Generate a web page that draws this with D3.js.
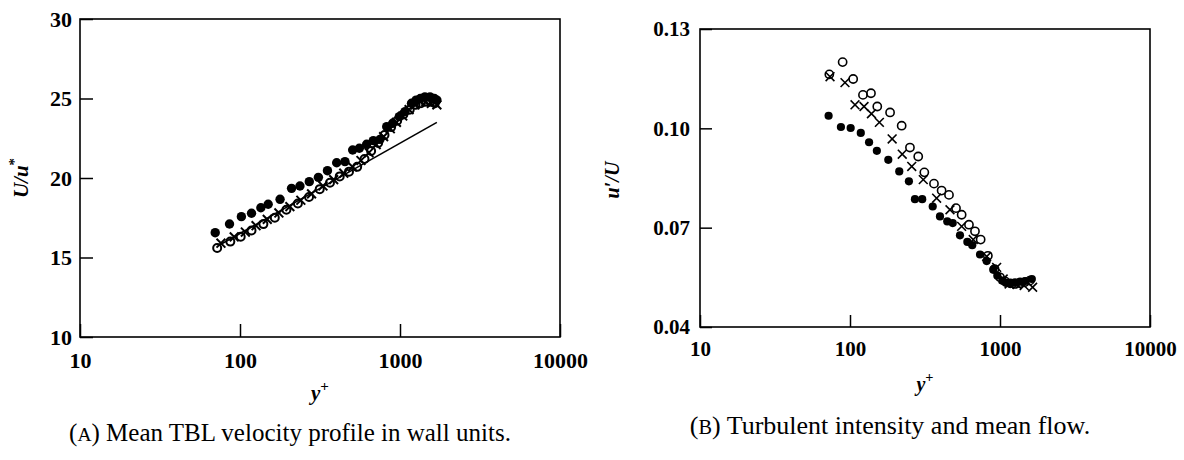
<!DOCTYPE html>
<html>
<head>
<meta charset="utf-8">
<script src="https://cdn.jsdelivr.net/npm/d3@7"></script>
<style>
  html, body { margin: 0; padding: 0; background: #fff; }
  svg { display: block; }
  svg text { font-family: "Liberation Serif", "Tinos", "Times New Roman", "DejaVu Serif", serif; }
  .tick text { font-weight: bold; fill: #000; }
  .tick line { stroke: #000; stroke-width: 1.5; }
</style>
</head>
<body>
<svg id="fig" width="1184" height="460"></svg>
<script>
// ---------- Panel A: mean velocity profile U/u* vs y+ ----------
const xTicksLog = [10, 100, 1000, 10000];
const yTicksA = [10, 15, 20, 25, 30];

// filled circles
const aFilledX = [70, 86, 102, 118, 135, 150, 178, 210, 237, 271, 309, 352, 402, 453, 506, 557, 619, 681, 750, 826, 900, 990, 1075, 1180, 1260, 1340, 1430, 1540, 1640, 1700];
const aFilledY = [16.56, 17.11, 17.57, 17.78, 18.13, 18.35, 18.66, 19.35, 19.5, 19.77, 20.04, 20.46, 20.96, 21.03, 21.76, 21.87, 22.12, 22.35, 22.43, 23.23, 23.44, 23.86, 24.17, 24.7, 24.9, 25.0, 25.1, 25.1, 25.0, 24.9];
// open circles
const aOpenX = [72, 87, 101, 118, 140, 165, 195, 230, 270, 315, 365, 420, 480, 540, 600, 660, 730, 800, 880, 960, 1050, 1150, 1250, 1350, 1450, 1550, 1650];
const aOpenY = [15.6, 16.0, 16.3, 16.7, 17.1, 17.5, 18.0, 18.4, 18.8, 19.3, 19.7, 20.1, 20.4, 20.7, 21.2, 21.7, 22.2, 22.7, 23.2, 23.6, 24.0, 24.3, 24.6, 24.7, 24.8, 24.8, 24.7];
// crosses
const aCrossX = [76, 92, 108, 126, 148, 175, 205, 240, 280, 330, 385, 445, 505, 570, 640, 710, 790, 870, 950, 1040, 1140, 1240, 1340, 1450, 1570, 1700];
const aCrossY = [15.9, 16.3, 16.6, 17.0, 17.4, 17.8, 18.2, 18.6, 19.0, 19.5, 19.9, 20.3, 20.7, 21.1, 21.6, 22.1, 22.6, 23.1, 23.5, 23.9, 24.3, 24.6, 24.8, 24.8, 24.7, 24.6];
// log-law line
const aLawX = [75, 1700];
const aLawY = [15.8, 23.5];

// ---------- Panel B: turbulent intensity u'/U vs y+ ----------
const yTicksB = [0.04, 0.07, 0.10, 0.13];

const bFilledX = [72, 87, 101, 118, 134, 151, 180, 213, 247, 271, 303, 356, 398, 445, 484, 541, 606, 653, 736, 815, 902, 960, 1040, 1100, 1170, 1260, 1360, 1470, 1630];
const bFilledY = [0.1038, 0.1004, 0.1001, 0.0986, 0.0958, 0.0932, 0.0905, 0.0870, 0.0840, 0.0786, 0.0786, 0.0764, 0.0734, 0.0719, 0.0714, 0.0677, 0.0657, 0.0647, 0.0619, 0.0599, 0.0573, 0.0555, 0.0540, 0.0533, 0.0532, 0.0535, 0.0537, 0.0539, 0.0545];

const bOpenX = [72.8, 89.3, 105, 122, 138, 152, 185, 221, 251, 285, 313, 363, 408, 457, 509, 555, 621, 681, 743, 830, 920, 1000, 1080, 1170, 1260, 1360, 1460, 1580];
const bOpenY = [0.1163, 0.1200, 0.1149, 0.1101, 0.1106, 0.1066, 0.1048, 0.1008, 0.0942, 0.0915, 0.0867, 0.0833, 0.0812, 0.0799, 0.0759, 0.0739, 0.0709, 0.0689, 0.0664, 0.0615, 0.0575, 0.0550, 0.0538, 0.0532, 0.0530, 0.0532, 0.0535, 0.0540];

const bCrossX = [73.6, 92.6, 108, 124, 139, 157, 191, 223, 258, 308, 378, 464, 555, 663, 815, 950, 1050, 1150, 1300, 1450, 1650];
const bCrossY = [0.1156, 0.1138, 0.1071, 0.1066, 0.1044, 0.1018, 0.0968, 0.0922, 0.0885, 0.0845, 0.0789, 0.0754, 0.0704, 0.0664, 0.0613, 0.0580, 0.0545, 0.0530, 0.0528, 0.0525, 0.0520];

const SERIF = "'Liberation Serif', 'Tinos', 'Times New Roman', 'DejaVu Serif', serif";
const svg = d3.select("#fig");
const zip = (xs, ys) => xs.map((x, i) => [x, ys[i]]);
const crossPath = s => `M${-s},${-s}L${s},${s}M${-s},${s}L${s},${-s}`;

function panel(cfg) {
  const g = svg.append("g");
  const x = d3.scaleLog().domain([10, 10000]).range(cfg.xr);
  const y = d3.scaleLinear().domain(cfg.yd).range(cfg.yr);

  // inward ticks on bottom and left only
  g.append("g")
    .attr("transform", `translate(0,${cfg.yr[0]})`)
    .call(d3.axisBottom(x).tickValues(xTicksLog).tickFormat(d3.format("d"))
      .tickSizeInner(-cfg.tick).tickSizeOuter(0).tickPadding(cfg.xpad))
    .attr("font-family", SERIF)
    .call(a => a.select(".domain").remove())
    .call(a => a.selectAll("text").style("font-size", cfg.fs + "px").style("font-family", SERIF));
  g.append("g")
    .attr("transform", `translate(${cfg.xr[0]},0)`)
    .call(d3.axisLeft(y).tickValues(cfg.yticks).tickFormat(cfg.yfmt)
      .tickSizeInner(-cfg.tick).tickSizeOuter(0).tickPadding(cfg.ypad))
    .attr("font-family", SERIF)
    .call(a => a.select(".domain").remove())
    .call(a => a.selectAll("text").style("font-size", cfg.fs + "px").style("font-family", SERIF));

  // frame
  g.append("rect")
    .attr("x", cfg.xr[0]).attr("y", cfg.yr[1])
    .attr("width", cfg.xr[1] - cfg.xr[0]).attr("height", cfg.yr[0] - cfg.yr[1])
    .attr("fill", "none").attr("stroke", "#000").attr("stroke-width", 1.6);

  if (cfg.law) {
    g.append("path")
      .attr("d", d3.line().x(d => x(d[0])).y(d => y(d[1]))(cfg.law))
      .attr("fill", "none").attr("stroke", "#000").attr("stroke-width", 1.6);
  }

  g.selectAll(null).data(cfg.open).join("circle")
    .attr("cx", d => x(d[0])).attr("cy", d => y(d[1])).attr("r", cfg.ro)
    .attr("fill", "none").attr("stroke", "#000").attr("stroke-width", cfg.sw);
  g.selectAll(null).data(cfg.cross).join("path")
    .attr("transform", d => `translate(${x(d[0])},${y(d[1])})`)
    .attr("d", crossPath(cfg.cs))
    .attr("fill", "none").attr("stroke", "#000").attr("stroke-width", cfg.sw);
  g.selectAll(null).data(cfg.filled).join("circle")
    .attr("cx", d => x(d[0])).attr("cy", d => y(d[1])).attr("r", cfg.rf)
    .attr("fill", "#000");

  // x title y+
  const xt = g.append("text")
    .attr("x", (cfg.xr[0] + cfg.xr[1]) / 2).attr("y", cfg.xtY)
    .attr("text-anchor", "middle")
    .style("font-family", SERIF).style("font-weight", "bold")
    .style("font-size", cfg.tfs + "px");
  xt.append("tspan").style("font-style", "italic").text("y");
  xt.append("tspan").attr("dy", -9).style("font-size", (cfg.tfs * 0.72) + "px").text("+");

  // y title
  const yt = g.append("text")
    .attr("transform", `translate(${cfg.ytX},${cfg.ytY}) rotate(-90)`)
    .attr("text-anchor", "middle")
    .style("font-family", SERIF).style("font-weight", "bold")
    .style("font-style", "italic").style("font-size", cfg.tfs + "px");
  cfg.ytitle(yt);

  // caption
  const cap = svg.append("text")
    .attr("x", cfg.capX).attr("y", cfg.capY)
    .attr("text-anchor", "middle")
    .style("font-family", SERIF)
    .style("font-size", cfg.capFs + "px");
  cap.append("tspan").text("(");
  cap.append("tspan").style("font-size", (cfg.capFs * 0.78) + "px").text(cfg.capLetter);
  cap.append("tspan").text(") " + cfg.capText);
}

panel({
  xr: [80, 560], yr: [337, 19], yd: [10, 30], yticks: yTicksA, yfmt: d3.format("d"),
  tick: 13, xpad: 15, ypad: 8, fs: 22, tfs: 21,
  law: zip(aLawX, aLawY),
  filled: zip(aFilledX, aFilledY), open: zip(aOpenX, aOpenY), cross: zip(aCrossX, aCrossY),
  rf: 4.7, ro: 4.0, cs: 4.4, sw: 2,
  xtY: 400, ytX: 28, ytY: 178,
  ytitle: t => {
    t.append("tspan").text("U/u");
    t.append("tspan").attr("dy", -9).style("font-style", "normal").style("font-size", "15px").text("*");
  },
  capX: 290, capY: 441, capFs: 25, capLetter: "A", capText: "Mean TBL velocity profile in wall units."
});

panel({
  xr: [700, 1150], yr: [327, 29], yd: [0.04, 0.13], yticks: yTicksB, yfmt: d3.format(".2f"),
  tick: 12, xpad: 14, ypad: 10, fs: 21, tfs: 20,
  law: null,
  filled: zip(bFilledX, bFilledY), open: zip(bOpenX, bOpenY), cross: zip(bCrossX, bCrossY),
  rf: 4.1, ro: 4.1, cs: 4.4, sw: 1.6,
  xtY: 391, ytX: 619, ytY: 180,
  ytitle: t => {
    t.append("tspan").text("u\u2032/U");
  },
  capX: 890, capY: 434, capFs: 26, capLetter: "B", capText: "Turbulent intensity and mean flow."
});
</script>
</body>
</html>
